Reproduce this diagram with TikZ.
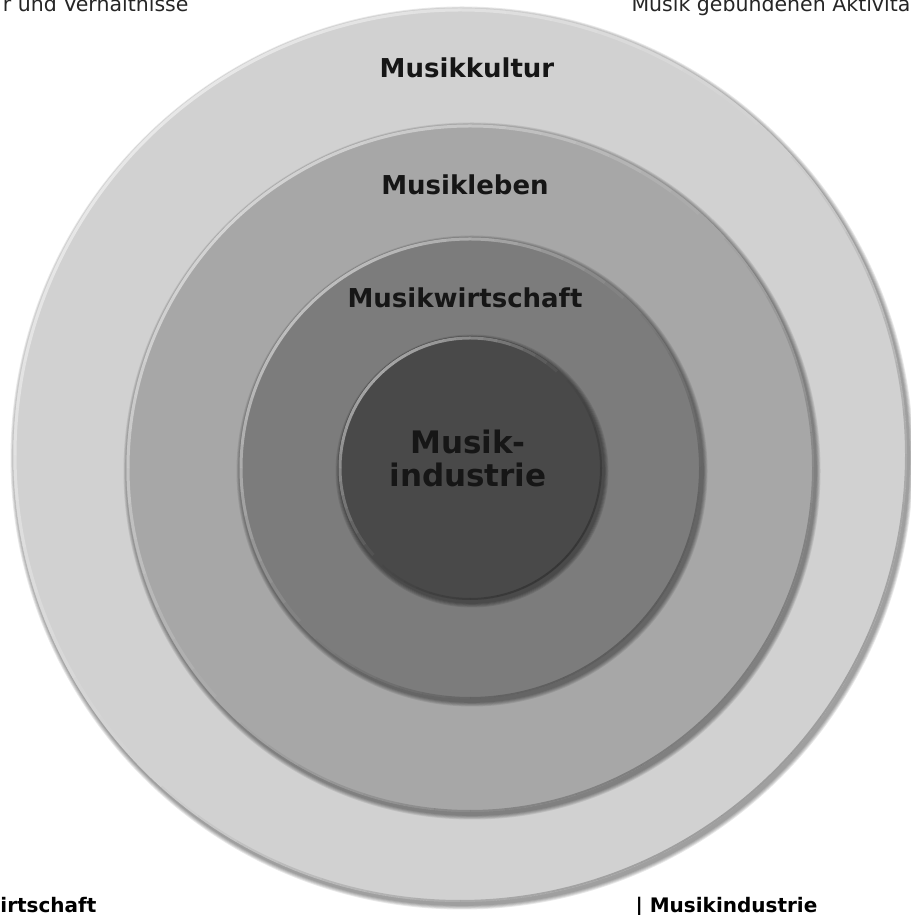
\documentclass[tikz,border=0pt]{standalone}
\usepackage{fontspec}
\setmainfont{DejaVu Sans}
\usepackage{tikz}
\usetikzlibrary{calc}
\definecolor{ringA}{HTML}{D1D1D1}
\definecolor{ringB}{HTML}{A7A7A7}
\definecolor{ringC}{HTML}{7C7C7C}
\definecolor{ringD}{HTML}{494949}
\definecolor{inkdark}{HTML}{161616}

\begin{document}
\begin{tikzpicture}[x=1pt, y=1pt,
  ringlbl/.style={font=\fontsize{26}{30}\selectfont\bfseries, text=inkdark, anchor=base},
  corelbl/.style={font=\fontsize{31}{33}\selectfont\bfseries, text=inkdark, align=center},
  edgetxt/.style={font=\fontsize{20.5}{24}\selectfont, text=black!85},
  edgebold/.style={font=\fontsize{20}{24}\selectfont\bfseries, text=black}]
  \useasboundingbox (0,0) rectangle (910,915);

  %% four nested discs: soft shadow to lower right, light rim top left
  \foreach \cx/\cy/\r/\col in {460/460/447/ringA, 470/447/344/ringB,
                               470/447/231/ringC, 470/447/132/ringD} {
    \foreach \k in {1,...,5}
      \fill[black, opacity=0.09] (\cx+2,\cy-3) circle[radius={\r+\k*0.9}];
    \fill[\col] (\cx,\cy) circle[radius=\r];
    %% rim: bright towards 135 deg, dark towards -45 deg
    \foreach \a in {0,6,...,354} {
      \pgfmathsetmacro\lite{0.5*max(0,cos(\a+3-135))}
      \pgfmathsetmacro\dark{0.25*max(0,cos(\a+3+45))}
      \draw[white, opacity=\lite, line width=3pt]
        (\cx,\cy) ++(\a:{\r-2}) arc[start angle=\a, end angle=\a+6, radius={\r-2}];
      \draw[black, opacity=\dark, line width=2pt]
        (\cx,\cy) ++(\a:{\r-1}) arc[start angle=\a, end angle=\a+6, radius={\r-1}];
    }
  }

  %% ring labels
  \node[ringlbl] (kultur) at (467,837) {Musikkultur};
  \node[ringlbl] (leben) at (465,720) {Musikleben};
  \node[ringlbl] (wirtschaft) at (465,607) {Musikwirtschaft};
  \node[corelbl] (industrie) at (468,457) {Musik-\\industrie};

  %% cut-off texts at the edges
  \node[edgetxt, anchor=base east] (obenlinks) at (192,903) {r und Verhältnisse};
  \node[edgetxt, anchor=base west] (obenrechts) at (628,903) {Musik gebundenen Aktivitä};
  \node[edgebold, anchor=base east] (untenlinks) at (100,2) {irtschaft};
  \node[edgebold, anchor=base west] (untenrechts) at (632,2) {| Musikindustrie};
\end{tikzpicture}
\end{document}
